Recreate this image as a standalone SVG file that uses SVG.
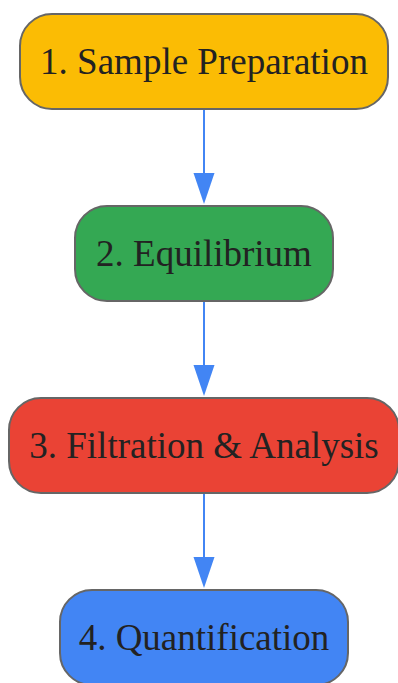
<svg xmlns="http://www.w3.org/2000/svg" width="398" height="683" viewBox="0 0 398 683">
<style>
.box{stroke:#666666;stroke-width:2}
.lbl{font-family:"Liberation Serif","Times New Roman",serif;font-size:37px;fill:#222222;text-anchor:middle}
.edge{stroke:#4285F4;stroke-width:2;fill:none}
.head{fill:#4285F4}
</style>
<rect width="398" height="683" fill="#ffffff"/>
<g id="connectors">
<path class="edge" d="M204,110 L204,174"/>
<path class="head" d="M193.5,173 L214.5,173 L204,204 Z"/>
<path class="edge" d="M204,302 L204,366"/>
<path class="head" d="M193.5,365 L214.5,365 L204,396 Z"/>
<path class="edge" d="M204,494 L204,558"/>
<path class="head" d="M193.5,557 L214.5,557 L204,588 Z"/>
</g>
<g id="node1">
<rect class="box" x="20" y="14" width="368" height="95" rx="32" fill="#FBBC04"/>
<text class="lbl" x="204" y="74">1. Sample Preparation</text>
</g>
<g id="node2">
<rect class="box" x="75" y="206" width="258" height="95" rx="32" fill="#34A853"/>
<text class="lbl" x="204" y="266">2. Equilibrium</text>
</g>
<g id="node3">
<rect class="box" x="9" y="398" width="390" height="95" rx="32" fill="#EA4335"/>
<text class="lbl" x="204" y="458">3. Filtration &amp; Analysis</text>
</g>
<g id="node4">
<rect class="box" x="60" y="590" width="288" height="95" rx="32" fill="#4285F4"/>
<text class="lbl" x="204" y="650">4. Quantification</text>
</g>
</svg>
